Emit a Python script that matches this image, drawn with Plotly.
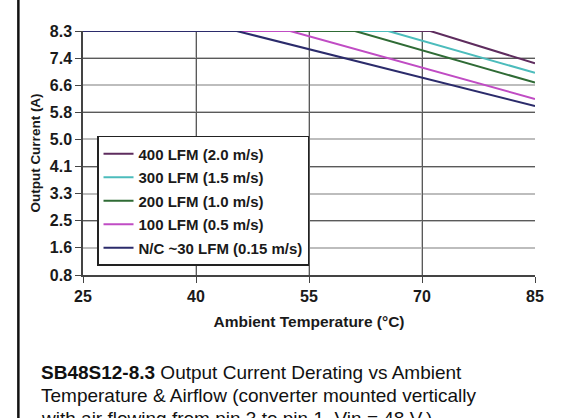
import plotly.graph_objects as go

# Data
series_names = ["400 LFM (2.0 m/s)", "300 LFM (1.5 m/s)", "200 LFM (1.0 m/s)",
                "100 LFM (0.5 m/s)", "N/C ~30 LFM (0.15 m/s)"]
series_colors = ["#5e2c5e", "#4cbcbc", "#2f6b35", "#c04cc4", "#2b2b6b"]
temps_400 = [25, 71.1, 85]
current_400 = [8.3, 8.3, 7.31]
temps_300 = [25, 65.5, 85]
current_300 = [8.3, 8.3, 7.02]
temps_200 = [25, 61.1, 85]
current_200 = [8.3, 8.3, 6.72]
temps_100 = [25, 52.5, 85]
current_100 = [8.3, 8.3, 6.22]
temps_nc = [25, 45.4, 85]
current_nc = [8.3, 8.3, 6.0]

x_ticks = [25, 40, 55, 70, 85]
y_tickvals = [0.83, 1.66, 2.49, 3.32, 4.15, 4.98, 5.81, 6.64, 7.47, 8.3]
y_ticktext = ["0.8", "1.6", "2.5", "3.3", "4.1", "5.0", "5.8", "6.6", "7.4", "8.3"]
y_dark_grid = [2.49, 4.15, 5.81, 7.47]
x_dark_grid = [40, 55, 70]

caption_lines = [
    "<b>SB48S12-8.3</b> Output Current Derating vs Ambient",
    "Temperature &amp; Airflow (converter mounted vertically",
    "with air flowing from pin 3 to pin 1, Vin = 48 V.)",
]

FONT = "Liberation Sans, Arial, sans-serif"

fig = go.Figure()
xs = [temps_400, temps_300, temps_200, temps_100, temps_nc]
ys = [current_400, current_300, current_200, current_100, current_nc]
for i, (name, color, x, y) in enumerate(zip(series_names, series_colors, xs, ys)):
    fig.add_trace(go.Scatter(x=x, y=y, mode="lines", name=name, legendgroup=f"g{i}",
                             line=dict(color=color, width=2), cliponaxis=False))

# invisible trace to anchor overlay axes that carry the darker grid lines
fig.add_trace(go.Scatter(x=[x_ticks[0]], y=[y_tickvals[0]], xaxis="x2", yaxis="y2",
                         mode="markers", marker=dict(opacity=0), showlegend=False,
                         hoverinfo="skip"))

fig.update_layout(
    width=582, height=418,
    margin=dict(l=83, r=47, t=31, b=143),
    paper_bgcolor="white", plot_bgcolor="white",
    font=dict(family=FONT, color="#1a1a1a"),
    xaxis=dict(range=[25, 85], tickvals=x_ticks, showgrid=True, gridcolor="#c4c4c4",
               gridwidth=1.5, showline=True, linecolor="#444", linewidth=1.5,
               ticks="outside", ticklen=6, tickcolor="#444",
               tickfont=dict(size=16, family=FONT, color="#1a1a1a", weight="bold"),
               title=dict(text="<b>Ambient Temperature (°C)</b>", font=dict(size=15.5),
                          standoff=12),
               zeroline=False, fixedrange=True),
    yaxis=dict(range=[0.83, 8.3], tickvals=y_tickvals, ticktext=y_ticktext,
               showgrid=True, gridcolor="#bdbdbd", gridwidth=1.5,
               showline=True, linecolor="#444", linewidth=1.5,
               ticks="outside", ticklen=6, tickcolor="#444",
               tickfont=dict(size=16, family=FONT, color="#1a1a1a", weight="bold"),
               title=dict(text="<b>Output Current (A)</b>", font=dict(size=13.5), standoff=6),
               zeroline=False, fixedrange=True),
    xaxis2=dict(range=[25, 85], overlaying="x", tickvals=x_dark_grid, showgrid=True,
                gridcolor="#5a5a5a", gridwidth=1, showticklabels=False, ticks="",
                zeroline=False, showline=False, fixedrange=True),
    yaxis2=dict(range=[0.83, 8.3], overlaying="y", tickvals=y_dark_grid, showgrid=True,
                gridcolor="#5a5a5a", gridwidth=1, showticklabels=False, ticks="",
                zeroline=False, showline=False, fixedrange=True),
    legend=dict(x=0.031, y=0.57, xanchor="left", yanchor="top",
                bgcolor="white", bordercolor="#222", borderwidth=1.5,
                font=dict(size=15, family=FONT, color="#1a1a1a", weight="bold"),
                tracegroupgap=1, itemwidth=30),
    showlegend=True,
)

for i, line in enumerate(caption_lines):
    fig.add_annotation(text=line, xref="paper", yref="paper", x=-0.097,
                       y=(275 - (372 + 23 * i)) / 244, xanchor="left", yanchor="middle",
                       showarrow=False, font=dict(size=19, family=FONT, color="#111"))

# left border line of the figure frame
fig.add_shape(type="line", xref="paper", yref="paper", x0=-0.143, x1=-0.143,
              y0=-1.0, y1=1.2, line=dict(color="#111", width=2.5))

fig.write_html("out.html")
